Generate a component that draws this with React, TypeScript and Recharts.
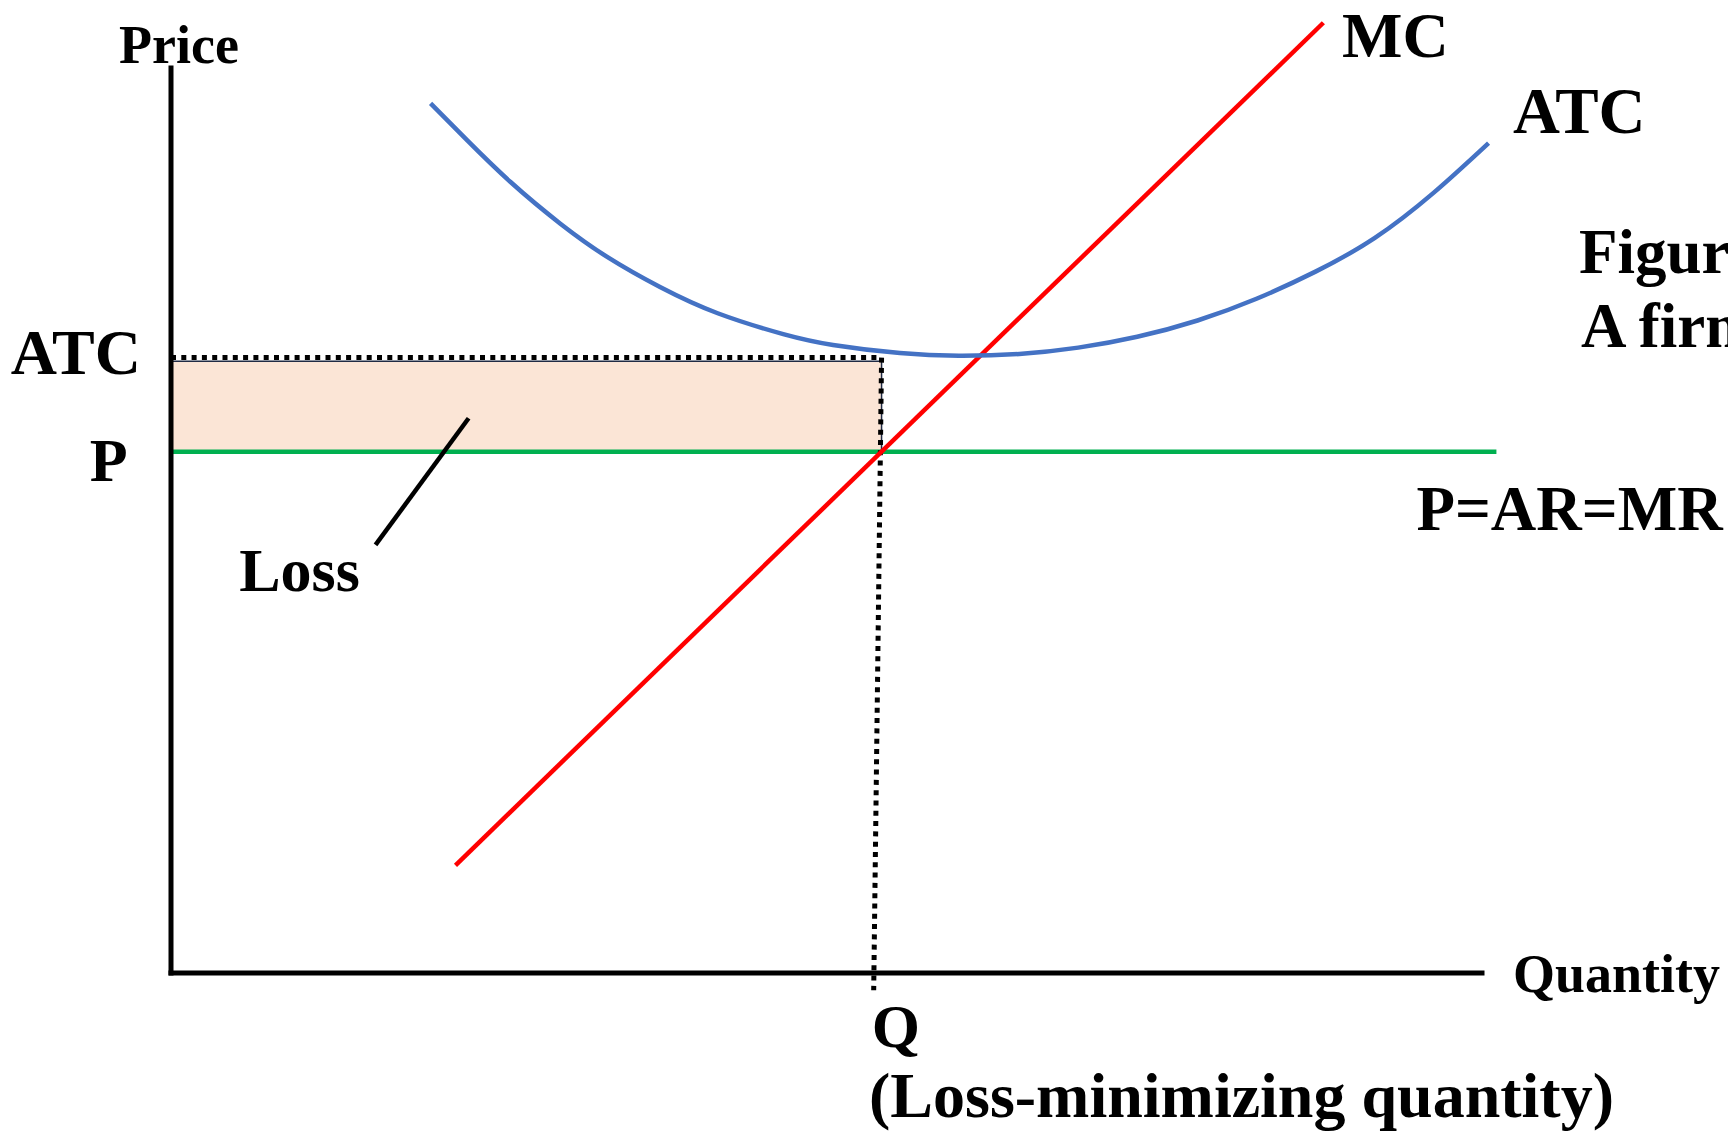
import React from 'react';
import {
  LineChart,
  Line,
  XAxis,
  YAxis,
  ReferenceArea,
  ReferenceLine,
  ReferenceDot,
} from 'recharts';

// readings, both axes run 0..100 (price axis top = 100)
const mcQuantity = [21.7, 87.9];
const mcPrice = [11.9, 105.0];

const atcQuantity = [
  19.8, 22.6, 25.9, 29.7, 33.3, 37.3, 41.7, 46.7, 50.5, 55.6,
  60.1, 64.7, 69.2, 73.7, 78.3, 82.8, 87.3, 91.8, 96.3, 100.5,
];
const atcPrice = [
  96.1, 92.0, 87.4, 82.8, 79.1, 75.8, 72.9, 70.6, 69.4, 68.5,
  68.2, 68.4, 69.1, 70.3, 72.1, 74.5, 77.5, 81.2, 86.2, 91.7,
];

const price = 57.6; // P = AR = MR
const atcAtQ = 68.0;
const lossTop = 67.6;
const qTop = 54.2;
const qBottom = 53.6;
const qBelowAxis = -1.9;
const priceLineEnd = 101.1;
const axisMax = 100;

const lossPointer = [
  { x: 22.7, y: 61.3 },
  { x: 15.6, y: 47.3 },
];

const mcData = mcQuantity.map((q, i) => ({ x: q, y: mcPrice[i] }));
const atcData = atcQuantity.map((q, i) => ({ x: q, y: atcPrice[i] }));
const priceData = [
  { x: 0, y: price },
  { x: priceLineEnd, y: price },
];
const atcDotted = [
  { x: 0, y: atcAtQ },
  { x: qTop, y: atcAtQ },
];
const qDotted = [
  { x: qTop, y: atcAtQ },
  { x: qBottom, y: qBelowAxis },
];

const FONT = '"Liberation Serif", "Times New Roman", serif';

// label renderer: text placed relative to a reference dot
const tag =
  (caption: string, shiftX: number, shiftY: number, fs: number, anchor: 'start' | 'middle' | 'end' = 'start') =>
  (props: any) => {
    const vb = props.viewBox;
    if (!vb) return null;
    return (
      <text
        x={vb.x + shiftX}
        y={vb.y + shiftY}
        textAnchor={anchor}
        fontFamily={FONT}
        fontWeight="bold"
        fontSize={fs}
        fill="#000"
      >
        {caption}
      </text>
    );
  };

export default function App() {
  return (
    <div style={{ position: 'absolute', left: 0, top: 0, background: '#fff' }}>
      <LineChart
        width={1728}
        height={1135}
        margin={{ top: 13.7, right: 180.45, bottom: 116.75, left: 105.45 }}
      >
        <XAxis type="number" dataKey="x" domain={[-5, 105]} hide allowDataOverflow />
        <YAxis type="number" dataKey="y" domain={[-5, 106]} hide allowDataOverflow />

        <ReferenceArea
          x1={0}
          x2={qTop}
          y1={price}
          y2={lossTop}
          fill="#FBE5D6"
          fillOpacity={1}
          stroke="#1F2A44"
          strokeWidth={1.5}
        />

        <Line
          data={atcDotted}
          dataKey="y"
          type="linear"
          stroke="#000"
          strokeWidth={5}
          strokeDasharray="5 5.3"
          dot={false}
          activeDot={false}
          isAnimationActive={false}
        />
        <Line
          data={priceData}
          dataKey="y"
          type="linear"
          stroke="#00B050"
          strokeWidth={4.5}
          dot={false}
          activeDot={false}
          isAnimationActive={false}
        />
        <Line
          data={qDotted}
          dataKey="y"
          type="linear"
          stroke="#000"
          strokeWidth={5}
          strokeDasharray="5 5.3"
          dot={false}
          activeDot={false}
          isAnimationActive={false}
        />
        <Line
          data={mcData}
          dataKey="y"
          type="linear"
          stroke="#FF0000"
          strokeWidth={4.5}
          dot={false}
          activeDot={false}
          isAnimationActive={false}
        />
        <Line
          data={atcData}
          dataKey="y"
          type="natural"
          stroke="#4472C4"
          strokeWidth={4.5}
          dot={false}
          activeDot={false}
          isAnimationActive={false}
        />

        <ReferenceLine segment={lossPointer} stroke="#000" strokeWidth={4.5} />

        {/* axes */}
        <ReferenceLine
          segment={[
            { x: 0, y: 0 },
            { x: 0, y: axisMax },
          ]}
          stroke="#000"
          strokeWidth={5}
          strokeLinecap="square"
        />
        <ReferenceLine
          segment={[
            { x: 0, y: 0 },
            { x: axisMax, y: 0 },
          ]}
          stroke="#000"
          strokeWidth={5}
          strokeLinecap="square"
        />

        {/* text */}
        <ReferenceDot x={0} y={axisMax} r={0} fill="none" stroke="none" label={tag('Price', 8, -5, 54, 'middle')} />
        <ReferenceDot x={axisMax} y={0} r={0} fill="none" stroke="none" label={tag('Quantity', 31, 19, 54)} />
        <ReferenceDot x={mcQuantity[1]} y={mcPrice[1]} r={0} fill="none" stroke="none" label={tag('MC', 18.6, 34, 64)} />
        <ReferenceDot
          x={atcQuantity[atcQuantity.length - 1]}
          y={atcPrice[atcPrice.length - 1]}
          r={0}
          fill="none"
          stroke="none"
          label={tag('ATC', 24.5, -10, 65)}
        />
        <ReferenceDot
          x={atcQuantity[atcQuantity.length - 1]}
          y={atcPrice[atcPrice.length - 1]}
          r={0}
          fill="none"
          stroke="none"
          label={tag('Figure', 90.5, 130, 63)}
        />
        <ReferenceDot
          x={atcQuantity[atcQuantity.length - 1]}
          y={atcPrice[atcPrice.length - 1]}
          r={0}
          fill="none"
          stroke="none"
          label={tag('A firm', 92.5, 204, 63)}
        />
        <ReferenceDot x={0} y={atcAtQ} r={0} fill="none" stroke="none" label={tag('ATC', -30, 16.4, 64, 'end')} />
        <ReferenceDot x={0} y={price} r={0} fill="none" stroke="none" label={tag('P', -43.5, 29, 62, 'end')} />
        <ReferenceDot
          x={lossPointer[1].x}
          y={lossPointer[1].y}
          r={0}
          fill="none"
          stroke="none"
          label={tag('Loss', -76, 46, 62, 'middle')}
        />
        <ReferenceDot x={priceLineEnd} y={price} r={0} fill="none" stroke="none" label={tag('P=AR=MR', -80, 78, 63)} />
        <ReferenceDot x={qBottom} y={0} r={0} fill="none" stroke="none" label={tag('Q', -2, 74, 62)} />
        <ReferenceDot
          x={qBottom}
          y={0}
          r={0}
          fill="none"
          stroke="none"
          label={tag('(Loss-minimizing quantity)', -4.7, 144, 64)}
        />
      </LineChart>
    </div>
  );
}
